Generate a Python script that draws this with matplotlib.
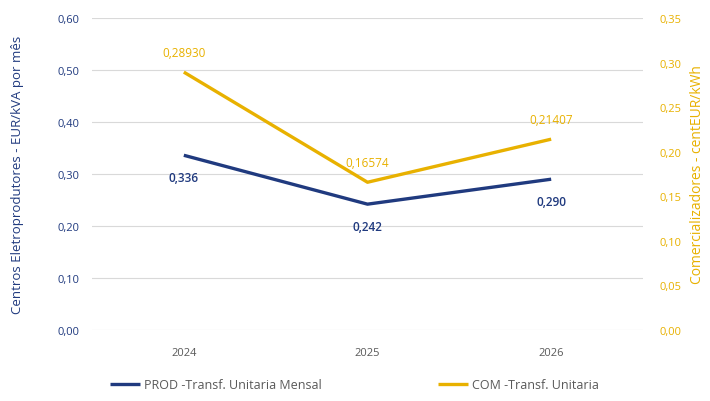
import matplotlib.pyplot as plt
import numpy as np

years = ['2024', '2025', '2026']
prod = [0.336, 0.242, 0.290]
com = [0.28930, 0.16574, 0.21407]
prod_labels = ['0,336', '0,242', '0,290']
com_labels = ['0,28930', '0,16574', '0,21407']

blue = '#203A7F'
gold = '#E8B100'
grey = '#595959'

plt.rcParams['font.family'] = ['Open Sans', 'DejaVu Sans']

fig = plt.figure(figsize=(7.1, 4.02), dpi=100)
ax = fig.add_axes([92 / 710, 1 - 331 / 402, 551 / 710, 312 / 402])
ax2 = ax.twinx()

x = np.arange(len(years))
l1, = ax.plot(x, prod, color=blue, linewidth=2.4, solid_capstyle='butt')
l2, = ax2.plot(x, com, color=gold, linewidth=2.4, solid_capstyle='butt')

for xi, v, t in zip(x, prod, prod_labels):
    ax.annotate(t, (xi, v), xytext=(0, -22), textcoords='offset pixels',
                ha='center', va='center', fontsize=8.5, color=blue, fontweight='semibold')
for xi, v, t in zip(x, com, com_labels):
    ax2.annotate(t, (xi, v), xytext=(0, 20), textcoords='offset pixels',
                 ha='center', va='center', fontsize=8.5, color=gold)

ax.set_xlim(-0.5, 2.5)
ax.set_ylim(0, 0.6)
ax2.set_ylim(0, 0.35)
ax.set_xticks(x)
ax.set_xticklabels(years, fontsize=8, color=grey)
ax.set_yticks(np.arange(0, 0.61, 0.1))
ax.set_yticklabels([f'{v:.2f}'.replace('.', ',') for v in np.arange(0, 0.61, 0.1)], fontsize=8, color=blue)
ax2.set_yticks(np.arange(0, 0.351, 0.05))
ax2.set_yticklabels([f'{v:.2f}'.replace('.', ',') for v in np.arange(0, 0.351, 0.05)], fontsize=8, color=gold)

ax.grid(axis='y', color='#D9D9D9', linewidth=0.8)
ax.set_axisbelow(True)
for a in (ax, ax2):
    for s in a.spines.values():
        s.set_visible(False)
    a.tick_params(length=0)
ax.tick_params(axis='y', pad=9)
ax.tick_params(axis='x', pad=12)
ax2.tick_params(axis='y', pad=12)

ax.set_ylabel('Centros Eletroprodutores - EUR/kVA por mês', fontsize=9.5, color=blue, labelpad=24)
ax2.set_ylabel('Comercializadores - centEUR/kWh', fontsize=10, color=gold, labelpad=6)

leg1 = fig.legend([l1], ['PROD -Transf. Unitaria Mensal'], loc='center left',
                  bbox_to_anchor=(110 / 710, 1 - 386 / 402), frameon=False, fontsize=9,
                  labelcolor=grey, handlelength=2.4, handletextpad=0.3, borderpad=0, borderaxespad=0)
leg2 = fig.legend([l2], ['COM -Transf. Unitaria'], loc='center left',
                  bbox_to_anchor=(438 / 710, 1 - 386 / 402), frameon=False, fontsize=9,
                  labelcolor=grey, handlelength=2.4, handletextpad=0.3, borderpad=0, borderaxespad=0)

fig.savefig('out.png', dpi=100)
